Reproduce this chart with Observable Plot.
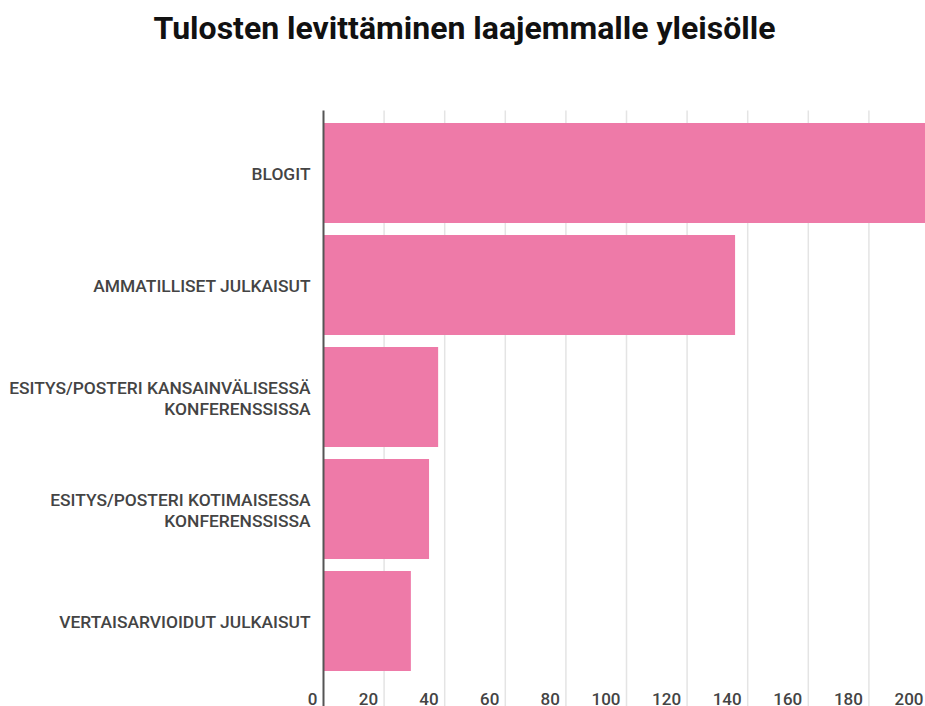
<!DOCTYPE html>
<html>
<head>
<meta charset="utf-8">
<script src="https://cdn.jsdelivr.net/npm/d3@7"></script>
<script src="https://cdn.jsdelivr.net/npm/@observablehq/plot@0.6"></script>
<style>
  html, body { margin: 0; padding: 0; background: #fff; overflow: hidden; width: 925px; height: 706px; }
  #title { position: relative; height: 60px; width: 925px; }
  #title span { position: absolute; left: 4px; right: 0; top: 12px; text-align: center; font-family: Roboto, sans-serif; font-weight: 700; font-size: 32px; line-height: 1; color: #111; white-space: nowrap; }
  #chart { width: 925px; overflow: hidden; }
  #chart svg { display: block; overflow: hidden; max-width: none !important; }
</style>
</head>
<body>
<div id="title"><span>Tulosten levittäminen laajemmalle yleisölle</span></div>
<div id="chart"></div>
<script>
const categories = [
  "BLOGIT",
  "AMMATILLISET JULKAISUT",
  "ESITYS/POSTERI KANSAINVÄLISESSÄ\nKONFERENSSISSA",
  "ESITYS/POSTERI KOTIMAISESSA\nKONFERENSSISSA",
  "VERTAISARVIOIDUT JULKAISUT"
];
const values = [215, 136, 38, 35, 29];
const xTicks = [0, 20, 40, 60, 80, 100, 120, 140, 160, 180, 200];

const data = categories.map((c, i) => ({category: c, value: values[i]}));

const chart = Plot.plot({
  width: 940,
  height: 646,
  marginLeft: 323,
  marginRight: 11,
  marginTop: 55,
  marginBottom: 28,
  style: {fontFamily: "Roboto, sans-serif", background: "#fff", maxWidth: "none"},
  x: {domain: [0, 200]},
  y: {domain: categories, paddingInner: 0.111, paddingOuter: 0.055},
  marks: [
    Plot.ruleX(xTicks.slice(1), {x: d => d, stroke: "#e4e4e4", strokeWidth: 1.5, insetTop: -4.5, insetBottom: -28}),
    Plot.barX(data, {x: "value", y: "category", fill: "#ee7aa8"}),
    Plot.ruleX([0], {stroke: "#555", strokeWidth: 2, insetTop: -4.5, insetBottom: -28}),
    Plot.axisX({ticks: xTicks, tickSize: 0, tickPadding: 14, textAnchor: "end", dx: -6, fontSize: 17, fontWeight: 500, fill: "#444", label: null}),
    Plot.axisY({tickSize: 0, tickPadding: 13, fontSize: 17.4, fontWeight: 500, fill: "#444", lineHeight: 1.22, label: null})
  ]
});
document.getElementById("chart").appendChild(chart);
</script>
</body>
</html>
